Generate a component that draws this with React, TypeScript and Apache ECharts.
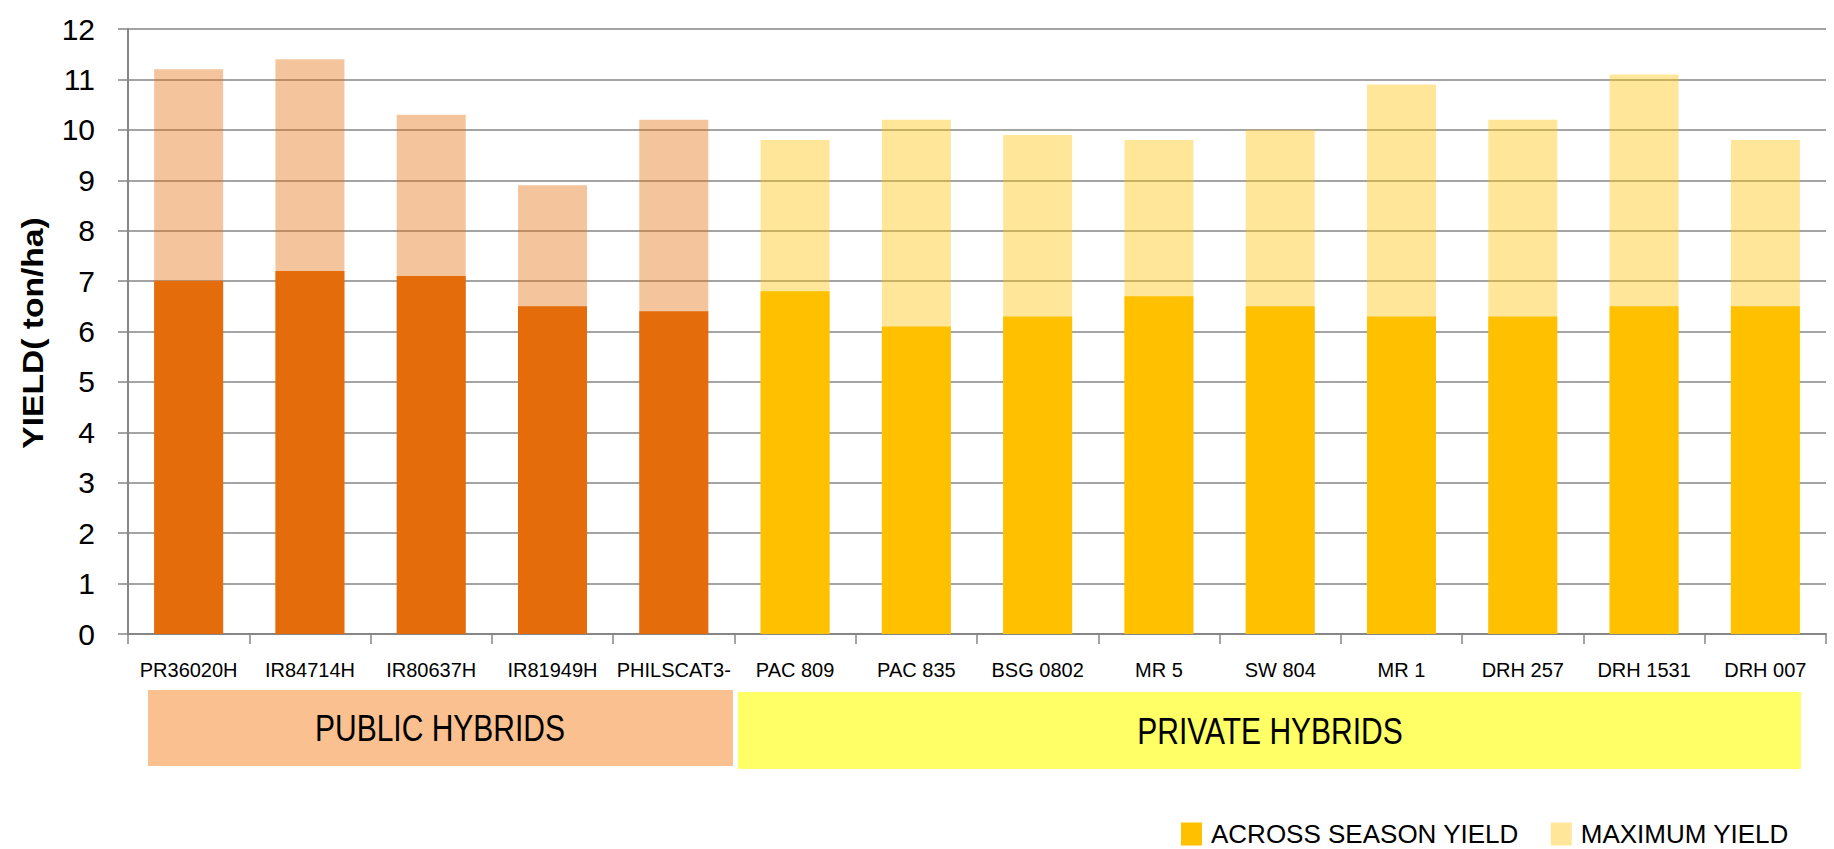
import React, { useEffect, useRef } from "react";
import * as echarts from "echarts";

const categories = [
  "PR36020H", "IR84714H", "IR80637H", "IR81949H", "PHILSCAT3-",
  "PAC 809", "PAC 835", "BSG 0802", "MR 5", "SW 804", "MR 1", "DRH 257", "DRH 1531", "DRH 007",
];
const acrossSeasonYield = [7.0, 7.2, 7.1, 6.5, 6.4, 6.8, 6.1, 6.3, 6.7, 6.5, 6.3, 6.3, 6.5, 6.5];
const maximumYield = [11.2, 11.4, 10.3, 8.9, 10.2, 9.8, 10.2, 9.9, 9.8, 10.0, 10.9, 10.2, 11.1, 9.8];
const publicCount = 5;
const seriesNames = ["ACROSS SEASON YIELD", "MAXIMUM YIELD"];
const groupLabels = ["PUBLIC HYBRIDS", "PRIVATE HYBRIDS"];
const yAxisTitle = "YIELD( ton/ha)";
const yMin = 0;
const yMax = 12;
const yInterval = 1;

const FONT = "'Liberation Sans', Arial, sans-serif";
const GRAY = "#868686";

export default function App() {
  const ref = useRef<HTMLDivElement>(null);
  useEffect(() => {
    if (!ref.current) return;
    const chart = echarts.init(ref.current, null, { renderer: "svg" });
    const maxData = maximumYield.map((v, i) =>
      i < publicCount ? { value: v, itemStyle: { color: "rgba(228,108,10,0.4)" } } : v
    );
    const acrossData = acrossSeasonYield.map((v, i) =>
      i < publicCount ? { value: v, itemStyle: { color: "#E46C0A" } } : v
    );
    const textStyleCommon = {
      fontFamily: FONT, fill: "#000",
      align: "center", verticalAlign: "middle", textAlign: "center", textVerticalAlign: "middle",
    };
    chart.setOption({
      animation: false,
      backgroundColor: "#ffffff",
      grid: { left: 128, right: 8, top: 29, bottom: 215, containLabel: false },
      legend: {
        data: seriesNames,
        left: 1176,
        top: 816,
        width: 650,
        padding: 5,
        itemWidth: 21,
        itemHeight: 23,
        itemGap: 32,
        icon: "rect",
        textStyle: { fontFamily: FONT, fontSize: 26, lineHeight: 26, color: "#000", padding: [0, 0, 0, 4] },
      },
      xAxis: {
        type: "category",
        data: categories,
        axisLine: { lineStyle: { color: GRAY, width: 2 } },
        axisTick: { show: true, length: 10, lineStyle: { color: GRAY, width: 1.5 } },
        axisLabel: { interval: 0, fontFamily: FONT, fontSize: 20, color: "#000", margin: 26 },
      },
      yAxis: {
        type: "value",
        min: yMin,
        max: yMax,
        interval: yInterval,
        axisLine: { show: true, lineStyle: { color: GRAY, width: 2 } },
        axisTick: { show: true, length: 10, lineStyle: { color: GRAY, width: 1.5 } },
        splitLine: { show: true, lineStyle: { color: GRAY, width: 1.5 } },
        axisLabel: { fontFamily: FONT, fontSize: 30, color: "#000", margin: 33 },
      },
      series: [
        {
          name: seriesNames[1],
          type: "bar",
          data: maxData,
          barWidth: 69,
          barGap: "-100%",
          itemStyle: { color: "rgba(255,192,0,0.4)" },
          z: 2,
        },
        {
          name: seriesNames[0],
          type: "bar",
          data: acrossData,
          barWidth: 69,
          barGap: "-100%",
          itemStyle: { color: "#FFC000" },
          z: 3,
        },
      ],
      graphic: [
        { type: "rect", shape: { x: 148, y: 690, width: 585, height: 76 }, style: { fill: "#FAC090" }, z: 1 },
        { type: "rect", shape: { x: 738, y: 692, width: 1063, height: 77 }, style: { fill: "#FFFF66" }, z: 1 },
        {
          type: "text", x: 440, y: 728, scaleY: 1.24, z: 2,
          style: { ...textStyleCommon, text: groupLabels[0], fontSize: 30 },
        },
        {
          type: "text", x: 1270, y: 731, scaleY: 1.24, z: 2,
          style: { ...textStyleCommon, text: groupLabels[1], fontSize: 30 },
        },
        {
          type: "text", x: 33, y: 333, rotation: Math.PI / 2, scaleX: 1.12, z: 2,
          style: { ...textStyleCommon, text: yAxisTitle, fontWeight: "bold", fontSize: 30 },
        },
      ],
    });
    return () => chart.dispose();
  }, []);
  return <div ref={ref} style={{ position: "fixed", left: 0, top: 0, width: 1834, height: 849, background: "#fff" }} />;
}
